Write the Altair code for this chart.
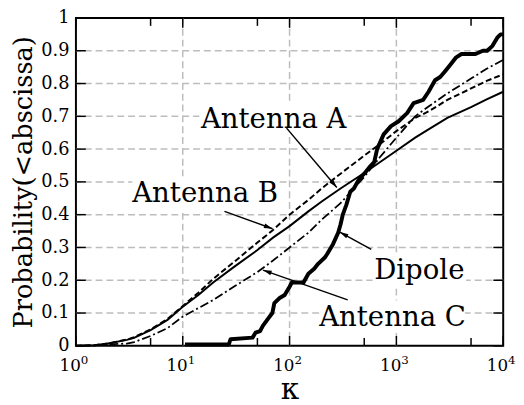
import math
import altair as alt
import pandas as pd

# ---------------- data ----------------
kappa = [1, 1.5, 2, 3, 3.5, 5, 7.2, 10, 14, 19.4, 30, 50, 70, 100, 150, 200,
         300, 500, 700, 1000, 1500, 2000, 3000, 5000, 7000, 10000]
antenna_a = [0, 0.002, 0.007, 0.018, 0.024, 0.048, 0.079, 0.119, 0.155, 0.194,
             0.24, 0.292, 0.33, 0.365, 0.41, 0.44, 0.48, 0.527, 0.56, 0.595,
             0.635, 0.66, 0.695, 0.728, 0.752, 0.775]
antenna_b = [0, 0.002, 0.007, 0.019, 0.026, 0.05, 0.082, 0.121, 0.162, 0.205,
             0.255, 0.315, 0.353, 0.40, 0.445, 0.48, 0.525, 0.58, 0.615, 0.655,
             0.695, 0.715, 0.75, 0.785, 0.808, 0.828]
antenna_c = [0, 0.001, 0.004, 0.007, 0.011, 0.03, 0.054, 0.089, 0.115, 0.14,
             0.18, 0.225, 0.26, 0.30, 0.345, 0.385, 0.435, 0.515, 0.575, 0.635,
             0.70, 0.73, 0.77, 0.815, 0.845, 0.872]
dipole_kappa = [10.5, 27, 28, 45, 48, 53, 56, 62, 69, 72, 80, 90, 100, 105, 135,
                150, 170, 185, 215, 225, 255, 285, 300, 315, 340, 370, 400, 450,
                500, 560, 620, 660, 760, 890, 1050, 1260, 1450, 1780, 2000, 2300,
                2570, 2820, 3160, 3630, 4070, 5500, 6450, 7080, 7940, 8800, 9450,
                10000]
dipole_prob = [0.004, 0.004, 0.02, 0.025, 0.04, 0.045, 0.06, 0.08, 0.10, 0.13,
               0.145, 0.155, 0.18, 0.193, 0.193, 0.22, 0.235, 0.25, 0.27, 0.28,
               0.31, 0.345, 0.37, 0.40, 0.43, 0.47, 0.48, 0.51, 0.525, 0.545,
               0.56, 0.60, 0.645, 0.67, 0.685, 0.71, 0.74, 0.75, 0.775, 0.81,
               0.82, 0.835, 0.855, 0.88, 0.89, 0.89, 0.90, 0.90, 0.915, 0.94,
               0.95, 0.95]

x_major = [1, 10, 100, 1000, 10000]
x_minor = [5, 50, 500, 5000]
x_grid = [10, 100, 1000]
exponents = ["0", "1", "2", "3", "4"]
y_ticks = [round(i * 0.1, 1) for i in range(11)]
y_grid = [round(i * 0.1, 1) for i in range(1, 10)]

label_text = ["Antenna A", "Antenna B", "Dipole", "Antenna C"]
label_k = [71, 16.2, 1640, 920]
label_p = [0.664, 0.438, 0.204, 0.06]
label_w = [145, 142, 89, 141]

arrow_k_start = [93.8, 24.6, 582, 350]
arrow_p_start = [0.664, 0.41, 0.294, 0.14]
arrow_k_tip = [277, 69.3, 295, 56.4]
arrow_p_tip = [0.483, 0.357, 0.347, 0.231]

# ---------------- layout ----------------
W, H = 434, 333
DEC = W / 4.0
FONT = "DejaVu Serif"
GRID = "#bdbdbd"

xs = alt.Scale(type="log", domain=[1, 10000])
ys = alt.Scale(domain=[0, 1])
x_axis = alt.Axis(values=x_major, labels=False, ticks=False, domain=False,
                  grid=False, title="κ", titleFont=FONT, titleFontSize=30,
                  titleFontWeight="normal", titleColor="black", titlePadding=30)
y_axis = alt.Axis(values=y_ticks, format="~g", labelFont=FONT, labelFontSize=18,
                  labelColor="black", labelPadding=7, ticks=False, tickSize=0,
                  domain=False, grid=False, title="Probability(<abscissa)",
                  titleFont=FONT, titleFontSize=26, titleFontWeight="normal",
                  titleColor="black", titlePadding=4)
X = alt.X("k:Q", scale=xs, axis=x_axis)
Y = alt.Y("p:Q", scale=ys, axis=y_axis)

grid_v = alt.Chart(pd.DataFrame({"k": x_grid})).mark_rule(
    color=GRID, strokeWidth=1.5, strokeDash=[7, 4]).encode(x=X)
grid_h = alt.Chart(pd.DataFrame({"p": y_grid})).mark_rule(
    color=GRID, strokeWidth=1.5, strokeDash=[7, 4]).encode(y=Y)

# white boxes behind annotation text
boxes = pd.DataFrame({
    "k": [k * 10 ** (-(w / 2 + 3) / DEC) for k, w in zip(label_k, label_w)],
    "k2": [k * 10 ** ((w / 2 + 3) / DEC) for k, w in zip(label_k, label_w)],
    "p": [p - 7 / H for p in label_p],
    "p2": [p + 26 / H for p in label_p],
})
box_layer = alt.Chart(boxes).mark_rect(color="white").encode(
    x=X, x2="k2:Q", y=Y, y2="p2:Q")

def line(k, p, **kw):
    return alt.Chart(pd.DataFrame({"k": k, "p": p})).mark_line(
        color="black", **kw).encode(x=X, y=Y)

line_a = line(kappa, antenna_a, strokeWidth=2)
line_b = line(kappa, antenna_b, strokeWidth=2, strokeDash=[6, 3])
line_c = line(kappa, antenna_c, strokeWidth=1.8, strokeDash=[9, 3, 2, 3])
line_d = line(dipole_kappa, dipole_prob, strokeWidth=4, strokeJoin="round")

angles = []
for ks, ps, kt, pt in zip(arrow_k_start, arrow_p_start, arrow_k_tip, arrow_p_tip):
    dx = DEC * (math.log10(kt) - math.log10(ks))
    dy = -H * (pt - ps)
    angles.append(math.degrees(math.atan2(dx, -dy)) % 360)

arrows = pd.DataFrame({"k": arrow_k_start, "p": arrow_p_start,
                       "k2": arrow_k_tip, "p2": arrow_p_tip})
arrow_lines = alt.Chart(arrows).mark_rule(color="black", strokeWidth=1.5).encode(
    x=X, x2="k2:Q", y=Y, y2="p2:Q")
heads = pd.DataFrame({"k": arrow_k_tip, "p": arrow_p_tip, "ang": angles})
arrow_heads = alt.Chart(heads).mark_point(
    shape="M0,0L-0.6,2.2L0.6,2.2Z", filled=True, size=64, color="black",
    opacity=1, strokeWidth=0).encode(
    x=X, y=Y, angle=alt.Angle("ang:Q", scale=None))

texts = alt.Chart(pd.DataFrame({"k": label_k, "p": label_p, "t": label_text})).mark_text(
    font=FONT, fontSize=28, align="center", baseline="alphabetic", color="black"
).encode(x=X, y=Y, text="t:N")

# inward tick marks
tick_style = dict(color="black", strokeWidth=1.5)
df_major = pd.DataFrame({"k": x_major})
df_minor = pd.DataFrame({"k": x_minor})
df_y = pd.DataFrame({"p": y_ticks})
ticks = [
    alt.Chart(df_major).mark_rule(**tick_style).encode(x=X, y=alt.value(H - 10), y2=alt.value(H)),
    alt.Chart(df_major).mark_rule(**tick_style).encode(x=X, y=alt.value(0), y2=alt.value(10)),
    alt.Chart(df_minor).mark_rule(**tick_style).encode(x=X, y=alt.value(H - 8), y2=alt.value(H)),
    alt.Chart(df_minor).mark_rule(**tick_style).encode(x=X, y=alt.value(0), y2=alt.value(8)),
    alt.Chart(df_y).mark_rule(**tick_style).encode(y=Y, x=alt.value(0), x2=alt.value(10)),
    alt.Chart(df_y).mark_rule(**tick_style).encode(y=Y, x=alt.value(W - 10), x2=alt.value(W)),
]

# x tick labels "10" with superscript exponent
df_xl = pd.DataFrame({"k": x_major, "base": ["10"] * 5, "e": exponents})
xl_base = alt.Chart(df_xl).mark_text(
    font=FONT, fontSize=17, align="right", baseline="alphabetic", dx=5, color="black"
).encode(x=X, y=alt.value(H + 26), text="base:N")
xl_exp = alt.Chart(df_xl).mark_text(
    font=FONT, fontSize=12, align="left", baseline="alphabetic", dx=5, color="black"
).encode(x=X, y=alt.value(H + 18), text="e:N")

chart = alt.layer(
    grid_v, grid_h, box_layer, line_a, line_b, line_c, line_d,
    arrow_lines, arrow_heads, texts, *ticks, xl_base, xl_exp
).properties(
    width=W, height=H,
    autosize=alt.AutoSizeParams(type="none"),
    padding={"left": 69, "top": 7, "right": 13, "bottom": 57},
).configure_view(stroke="black", strokeWidth=2)

chart.save("out.html", embed_options={"renderer": "svg", "actions": False})
